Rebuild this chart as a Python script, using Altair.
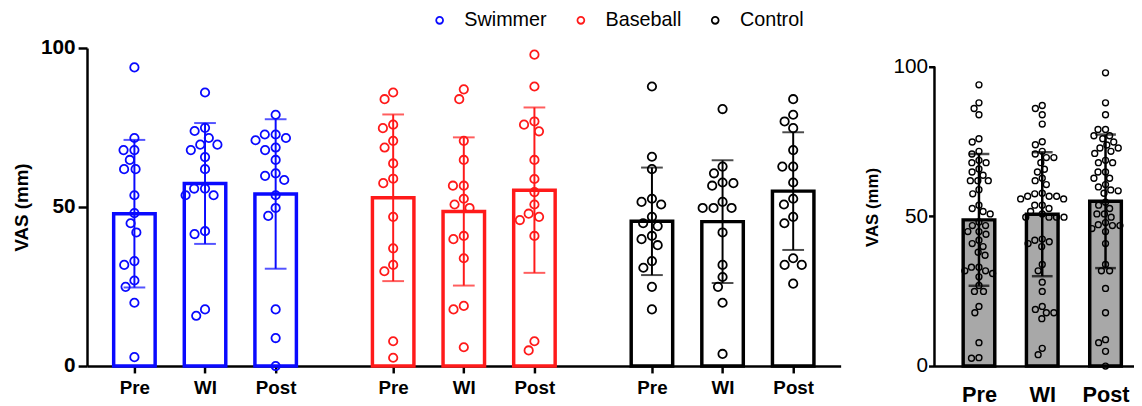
import math
import altair as alt
import pandas as pd

# ---------------- data ----------------
groups = ["Swimmer", "Baseball", "Control"]
conds = ["Pre", "WI", "Post"]
group_colors = ["#0a0aff", "#ff1a1a", "#000000"]

swimmer_pre = [93.9, 71.7, 67.9, 67.9, 64.8, 61.9, 61.9, 53.7, 48.1, 44.9, 42.0, 33.0, 31.8, 26.9, 24.9, 19.9, 2.8]
swimmer_wi = [86.0, 74.9, 73.9, 71.7, 69.6, 69.6, 67.9, 65.7, 61.9, 55.8, 55.8, 53.7, 53.7, 42.4, 41.5, 17.8, 15.8]
swimmer_post = [79.0, 72.8, 72.8, 71.7, 71.0, 68.7, 67.9, 64.8, 60.6, 59.8, 58.5, 53.7, 49.7, 47.2, 17.8, 8.8, 0.0]
baseball_pre = [86.0, 83.9, 75.9, 74.8, 70.8, 68.7, 63.7, 58.9, 57.5, 46.9, 37.0, 31.8, 29.8, 7.8, 2.6]
baseball_wi = [87.0, 83.9, 70.8, 64.8, 56.7, 56.7, 52.6, 50.8, 49.7, 40.9, 39.9, 33.9, 18.9, 17.8, 5.9]
baseball_post = [97.9, 87.9, 76.9, 75.9, 73.8, 64.8, 58.8, 54.7, 50.8, 47.9, 46.9, 45.9, 40.9, 7.8, 4.9]
control_pre = [87.9, 65.8, 61.9, 52.6, 51.6, 50.8, 46.9, 44.9, 44.0, 40.9, 39.9, 38.0, 33.0, 30.9, 24.9, 17.8]
control_wi = [80.8, 62.7, 60.6, 57.7, 57.5, 56.7, 51.6, 49.7, 49.7, 49.7, 42.0, 31.8, 28.0, 24.9, 19.9, 3.8]
control_post = [83.9, 79.0, 76.9, 74.8, 67.9, 62.7, 62.7, 57.7, 52.6, 50.8, 46.9, 44.9, 33.9, 31.8, 31.8, 25.9]

swimmer_mean = [47.9, 57.4, 54.1]
swimmer_sd = [23.2, 19.0, 23.5]
baseball_mean = [52.9, 48.6, 55.3]
baseball_sd = [26.2, 23.3, 26.0]
control_mean = [45.5, 45.4, 55.0]
control_sd = [16.9, 19.3, 18.5]
pooled_mean = [48.8, 50.7, 55.0]
pooled_sd = [22.0, 20.7, 22.3]

points = {
    "Swimmer": [swimmer_pre, swimmer_wi, swimmer_post],
    "Baseball": [baseball_pre, baseball_wi, baseball_post],
    "Control": [control_pre, control_wi, control_post],
}
means = {"Swimmer": swimmer_mean, "Baseball": baseball_mean, "Control": control_mean}
sds = {"Swimmer": swimmer_sd, "Baseball": baseball_sd, "Control": control_sd}

# ---------------- layout ----------------
H = 322
LEFT_W = 763
RIGHT_W = 202
X_PX_L = 71.5          # px per slot, left panel
GROUP_STEP = 3.664     # slots between group starts
XDOM_L = [-0.671, 10.0]
Y_PX_L = H / 100.0
X_PX_R = 64.07
XDOM_R = [-0.703, 2.45]
YMAX_R = 106.2
Y_PX_R = H / YMAX_R


def swarm(values, ypx, d):
    """simple beeswarm: horizontal offsets in px"""
    order = sorted(range(len(values)), key=lambda i: -values[i])
    placed = []
    xs = [0.0] * len(values)
    for i in order:
        y = values[i] * ypx
        ivs = []
        for px, py in placed:
            dy = abs(y - py)
            if dy < d:
                w = math.sqrt(d * d - dy * dy)
                ivs.append((px - w, px + w))
        cands = [0.0] + [a for a, b in ivs] + [b for a, b in ivs]
        cands.sort(key=lambda c: (abs(c), c))
        chosen = 0.0
        for c in cands:
            if all(not (a + 1e-6 < c < b - 1e-6) for a, b in ivs):
                chosen = c
                break
        xs[i] = chosen
        placed.append((chosen, y))
    return xs


pt_rows, bar_rows, tick_pos = [], [], []
for g, gname in enumerate(groups):
    for c, cname in enumerate(conds):
        pos = g * GROUP_STEP + c
        tick_pos.append(pos)
        vals = points[gname][c]
        offs = swarm(vals, Y_PX_L, 11.0)
        for v, o in zip(vals, offs):
            pt_rows.append({"group": gname, "cond": cname, "x": pos + o / X_PX_L, "y": v})
        m, s = means[gname][c], sds[gname][c]
        bar_rows.append({"group": gname, "cond": cname, "x": pos, "mean": m, "lo": m - s, "hi": m + s})

pts_l = pd.DataFrame(pt_rows)
bars_l = pd.DataFrame(bar_rows)

pr_rows, br_rows = [], []
for c, cname in enumerate(conds):
    vals = points["Swimmer"][c] + points["Baseball"][c] + points["Control"][c]
    offs = swarm(vals, Y_PX_R, 7.6)
    for v, o in zip(vals, offs):
        pr_rows.append({"cond": cname, "x": c + o / X_PX_R, "y": v})
    m, s = pooled_mean[c], pooled_sd[c]
    br_rows.append({"cond": cname, "x": c, "mean": m, "lo": m - s, "hi": m + s})
pts_r = pd.DataFrame(pr_rows)
bars_r = pd.DataFrame(br_rows)

FONT = "Liberation Sans"
col_scale = alt.Scale(domain=groups, range=group_colors)

lab_keys = [round(p * 1000) for p in tick_pos]
label_expr = "['Pre','WI','Post'][indexof(%s, round(datum.value*1000)) %% 3]" % str(lab_keys)

xl = alt.X("x:Q", scale=alt.Scale(domain=XDOM_L, nice=False, zero=False, padding=0),
           axis=alt.Axis(values=tick_pos, labelExpr=label_expr, title=None, grid=False,
                         tickSize=7, tickWidth=2.5, domainWidth=2.5, domainColor="black",
                         tickColor="black", labelFont=FONT, labelFontSize=19,
                         labelFontWeight="bold", labelColor="black", labelPadding=6,
                         labelFlush=False))
yl = alt.Y("mean:Q", scale=alt.Scale(domain=[0, 100], nice=False, padding=0),
           axis=alt.Axis(values=[0, 50, 100], title="VAS (mm)", grid=False, tickSize=9,
                         tickWidth=2.5, domainWidth=2.5, domainColor="black", tickColor="black",
                         labelFont=FONT, labelFontSize=21, labelFontWeight="bold",
                         labelColor="black", labelPadding=3, titleFont=FONT, titleFontSize=19,
                         titleFontWeight="bold", titleColor="black", titlePadding=9))

bars = alt.Chart(bars_l).mark_bar(size=42, fill="white", strokeWidth=3.5).encode(
    x=xl, y=yl, stroke=alt.Stroke("group:N", scale=col_scale, legend=None))
err = alt.Chart(bars_l).mark_rule(strokeWidth=2).encode(
    x="x:Q", y="lo:Q", y2="hi:Q", stroke=alt.Stroke("group:N", scale=col_scale, legend=None))
cap_hi = alt.Chart(bars_l).mark_tick(orient="horizontal", size=22, thickness=2).encode(
    x="x:Q", y="hi:Q", fill=alt.Fill("group:N", scale=col_scale, legend=None))
cap_lo = alt.Chart(bars_l).mark_tick(orient="horizontal", size=22, thickness=2).encode(
    x="x:Q", y="lo:Q", fill=alt.Fill("group:N", scale=col_scale, legend=None))
pts = alt.Chart(pts_l).mark_point(shape="circle", filled=False, size=72, strokeWidth=1.8, opacity=1).encode(
    x="x:Q", y="y:Q",
    color=alt.Color("group:N", scale=col_scale, sort=groups,
                    legend=alt.Legend(title=None, orient="none", legendX=347, legendY=-38,
                                      direction="horizontal", labelFont=FONT, labelFontSize=20,
                                      labelColor="black", symbolSize=48, symbolStrokeWidth=1.8,
                                      labelOffset=15, columnPadding=24, symbolType="circle")))
left = alt.layer(bars, err, cap_hi, cap_lo, pts).properties(width=LEFT_W, height=H)

xr = alt.X("x:Q", scale=alt.Scale(domain=XDOM_R, nice=False, zero=False, padding=0),
           axis=alt.Axis(values=[0, 1, 2], labelExpr="['Pre','WI','Post'][round(datum.value)]",
                         title=None, grid=False, ticks=False, domainWidth=2.5, domainColor="black",
                         labelFont=FONT, labelFontSize=22, labelFontWeight="bold",
                         labelColor="black", labelPadding=19, labelFlush=False))
yr = alt.Y("mean:Q", scale=alt.Scale(domain=[0, YMAX_R], nice=False, padding=0),
           axis=alt.Axis(values=[0, 50, 100], title="VAS (mm)", grid=False, domain=False,
                         tickSize=6, tickWidth=2.5, tickColor="black", labelFont=FONT,
                         labelFontSize=21, labelColor="black", labelPadding=1, titleFont=FONT,
                         titleFontSize=17, titleFontWeight="bold", titleColor="black",
                         titlePadding=12))

rbars = alt.Chart(bars_r).mark_bar(size=32, fill="#a8a8a8", stroke="black", strokeWidth=3.5).encode(x=xr, y=yr)
rerr = alt.Chart(bars_r).mark_rule(strokeWidth=2.5, color="black").encode(x="x:Q", y="lo:Q", y2="hi:Q")
rcap_hi = alt.Chart(bars_r).mark_tick(orient="horizontal", size=21, thickness=2.5, color="black").encode(x="x:Q", y="hi:Q")
rcap_lo = alt.Chart(bars_r).mark_tick(orient="horizontal", size=21, thickness=2.5, color="black").encode(x="x:Q", y="lo:Q")
rpts = alt.Chart(pts_r).mark_point(shape="circle", filled=False, size=36, strokeWidth=1.4,
                                   color="black", opacity=1).encode(x="x:Q", y="y:Q")
raxis = alt.Chart(pd.DataFrame({"k": [0]})).mark_rule(strokeWidth=2.5, color="black").encode(
    x=alt.value(0), y=alt.datum(0), y2=alt.datum(100))
right = alt.layer(rbars, rerr, rcap_hi, rcap_lo, rpts, raxis).properties(width=RIGHT_W, height=H)

chart = alt.hconcat(left, right, spacing=22).resolve_legend(color="independent").properties(
    padding={"left": 4, "top": 0, "right": 0, "bottom": 0}, background="white"
).configure_view(stroke=None)

chart.save("out.html", embed_options={"renderer": "svg", "actions": False})
